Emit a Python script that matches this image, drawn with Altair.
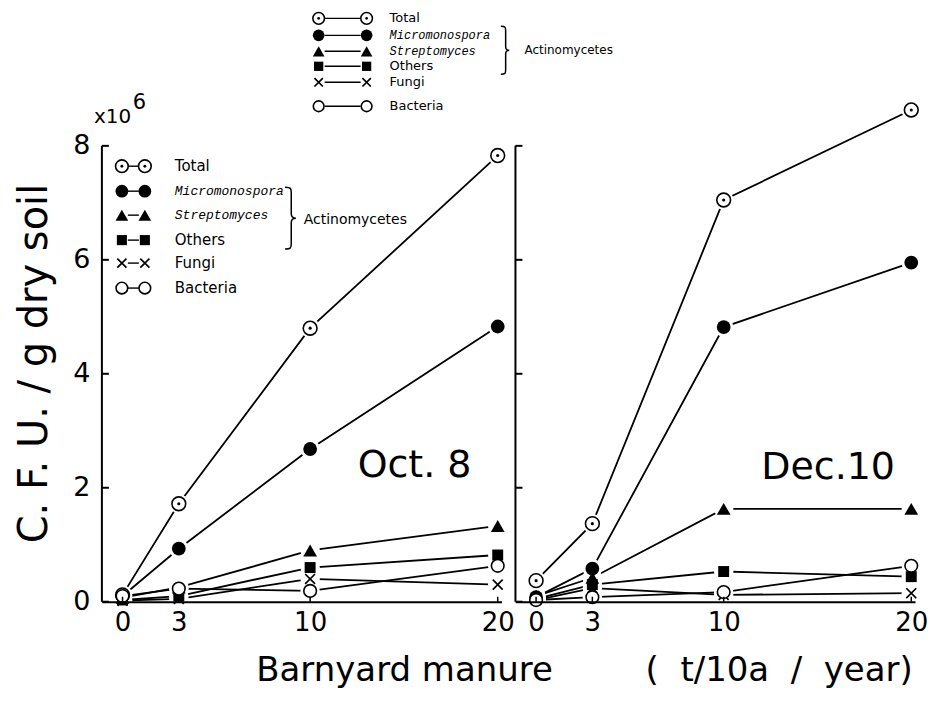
import altair as alt
import pandas as pd

# ---------------- data (units: x10^6 CFU / g dry soil) -------------
doses = [0, 3, 10, 20]
series_names = ["Total", "Micromonospora", "Streptomyces", "Others", "Fungi", "Bacteria"]

oct_total = [0.12, 1.72, 4.80, 7.83]
oct_micro = [0.10, 0.93, 2.68, 4.83]
oct_strep = [0.07, 0.25, 0.90, 1.33]
oct_others = [0.03, 0.10, 0.60, 0.82]
oct_fungi = [0.02, 0.05, 0.40, 0.30]
oct_bact = [0.10, 0.23, 0.19, 0.63]

dec_total = [0.37, 1.37, 7.05, 8.63]
dec_micro = [0.08, 0.58, 4.82, 5.95]
dec_strep = [0.10, 0.42, 1.63, 1.63]
dec_others = [0.05, 0.30, 0.53, 0.44]
dec_fungi = [0.03, 0.24, 0.12, 0.15]
dec_bact = [0.03, 0.08, 0.17, 0.63]

y_ticks = [0, 2, 4, 6, 8]
panel_labels = ["Oct. 8", "Dec.10"]
y_title = "C. F. U. / g dry soil"
x_title_parts = ["Barnyard manure", "(\u00a0\u00a0t/10a\u00a0\u00a0/\u00a0\u00a0year)"]
group_label = "Actinomycetes"


def long_df(cols):
    rows = []
    for name, vals in zip(series_names, cols):
        for d, v in zip(doses, vals):
            rows.append({"dose": d, "value": v, "series": name})
    return pd.DataFrame(rows)


oct_df = long_df([oct_total, oct_micro, oct_strep, oct_others, oct_fungi, oct_bact])
dec_df = long_df([dec_total, dec_micro, dec_strep, dec_others, dec_fungi, dec_bact])

# ---------------- styling ----------------
W, H = 400, 502
XS = alt.Scale(domain=[-1.1, 20.2], nice=False, zero=False)
YS = alt.Scale(domain=[0, 8.8], nice=False, zero=True)
SANS = "DejaVu Sans"
MONO = "Liberation Mono"

XPATH = "M -0.7 -0.7 L 0.7 0.7 M -0.7 0.7 L 0.7 -0.7"
BRACE = ("M -0.15 -1 C 0.05 -1 0.05 -0.95 0.05 -0.8 L 0.05 -0.15 "
         "C 0.05 -0.05 0.1 0 0.2 0 C 0.1 0 0.05 0.05 0.05 0.15 "
         "L 0.05 0.8 C 0.05 0.95 0.05 1 -0.15 1")

STYLE = {
    "Total": [dict(shape="circle", filled=False, fill="white", stroke="black", strokeWidth=1.6, size=190),
              dict(shape="circle", filled=True, color="black", size=10)],
    "Micromonospora": [dict(shape="circle", filled=True, color="black", size=190)],
    "Streptomyces": [dict(shape="triangle-up", filled=True, color="black", size=190)],
    "Others": [dict(shape="square", filled=True, color="black", size=120)],
    "Fungi": [dict(shape=XPATH, filled=False, stroke="black", strokeWidth=1.7, size=200)],
    "Bacteria": [dict(shape="circle", filled=False, fill="white", stroke="black", strokeWidth=1.6, size=160)],
}

one = pd.DataFrame({"k": [0]})


def legend_layers(rows_y, xl, xr, xt, scale, brace_x, brace_cy, brace_h, act_x, act_y, fs, fs_it):
    layers = []
    for name, ry in zip(series_names, rows_y):
        layers.append(alt.Chart(one).mark_rule(color="black", strokeWidth=1.4).encode(
            x=alt.value(xl + 6), x2=alt.value(xr - 6), y=alt.value(ry)))
        for px in (xl, xr):
            for st in STYLE[name]:
                s = dict(st)
                s["size"] = st["size"] * scale
                layers.append(alt.Chart(one).mark_point(opacity=1, **s).encode(
                    x=alt.value(px), y=alt.value(ry)))
        italic = name in ("Micromonospora", "Streptomyces")
        layers.append(alt.Chart(one).mark_text(
            text=name, align="left", baseline="middle",
            font=MONO if italic else SANS,
            fontStyle="italic" if italic else "normal",
            fontSize=fs_it if italic else fs, color="black").encode(
            x=alt.value(xt), y=alt.value(ry)))
    layers.append(alt.Chart(one).mark_point(
        shape=BRACE, filled=False, stroke="black", strokeWidth=1.5, opacity=1,
        size=brace_h * brace_h).encode(x=alt.value(brace_x), y=alt.value(brace_cy)))
    layers.append(alt.Chart(one).mark_text(
        text=group_label, align="left", baseline="middle", font=SANS,
        fontSize=fs - 1, color="black").encode(x=alt.value(act_x), y=alt.value(act_y)))
    return layers


def panel(df, label, label_x, label_y, left):
    x_axis = alt.Axis(values=doses, domain=True, domainColor="black", domainWidth=2,
                      ticks=False, labelFontSize=26, labelFont=SANS, labelColor="black",
                      labelPadding=8, labelFlush=False, labelOverlap=False,
                      grid=False, title=None, zindex=1)
    if left:
        y_axis = alt.Axis(values=y_ticks, domain=False, ticks=False, labelFontSize=27,
                          labelFont=SANS, labelColor="black", labelPadding=12,
                          grid=False, title=y_title, titleFont=SANS, titleFontSize=40,
                          titleFontWeight="normal", titleColor="black", titleAngle=270,
                          titleX=-67, titleY=263, titleAlign="center",
                          titleBaseline="middle")
    else:
        y_axis = None
    xe = alt.X("dose:Q", scale=XS, axis=x_axis)
    ye = alt.Y("value:Q", scale=YS, axis=y_axis)
    base = alt.Chart(df)

    layers = [
        base.mark_line(color="black", strokeWidth=1.8).encode(x=xe, y=ye, detail="series:N"),
        base.mark_point(shape="circle", filled=True, color="white", size=380, opacity=1).encode(x=xe, y=ye),
    ]
    for name in series_names:
        sub = base.transform_filter(alt.datum.series == name)
        for st in STYLE[name]:
            layers.append(sub.mark_point(opacity=1, **st).encode(x=xe, y=ye))

    # axis line and inward ticks (same fields/axes as the data so the axes merge)
    layers.append(alt.Chart(pd.DataFrame({"value": [0], "value2": [8]})).mark_rule(
        color="black", strokeWidth=2).encode(
        x=alt.value(0), y=ye, y2="value2:Q"))
    layers.append(alt.Chart(pd.DataFrame({"value": y_ticks})).mark_rule(color="black", strokeWidth=2).encode(
        x=alt.value(0), x2=alt.value(7), y=ye))
    layers.append(alt.Chart(pd.DataFrame({"dose": doses})).mark_rule(color="black", strokeWidth=1.5).encode(
        x=xe, y=alt.value(H), y2=alt.value(H - 5)))

    layers.append(alt.Chart(one).mark_text(
        text=label, fontSize=38, font=SANS, color="black", align="center", baseline="middle").encode(
        x=alt.value(label_x), y=alt.value(label_y)))
    return layers


left_layers = panel(oct_df, panel_labels[0], 313, 366, True)
left_layers += [
    alt.Chart(one).mark_text(text="x10", fontSize=20, font=SANS, color="black",
                             align="left", baseline="alphabetic").encode(
        x=alt.value(-8), y=alt.value(23)),
    alt.Chart(one).mark_text(text="6", fontSize=21, font=SANS, color="black",
                             align="left", baseline="alphabetic").encode(
        x=alt.value(31), y=alt.value(9)),
    alt.Chart(one).mark_text(text=x_title_parts[0], fontSize=34, font=SANS, color="black",
                             align="center", baseline="middle").encode(
        x=alt.value(303), y=alt.value(571)),
]
# inner legend (inside Oct. 8 panel)
left_layers += legend_layers([66, 91, 115, 140, 163, 188], 20, 43, 73, 0.85,
                             188, 118, 62, 202, 120, 15, 13)
# top legend (above the panels)
left_layers += legend_layers([-82, -65, -49, -34, -18, 6], 217, 265, 288, 0.72,
                             403, -50, 48, 423, -50, 13, 12)

right_layers = panel(dec_df, panel_labels[1], 313, 368, False)
right_layers += [
    alt.Chart(one).mark_text(text=x_title_parts[1], fontSize=34, font=SANS, color="black",
                             align="center", baseline="middle").encode(
        x=alt.value(264), y=alt.value(571)),
]

left = alt.layer(*left_layers).properties(width=W, height=H)
right = alt.layer(*right_layers).properties(width=W, height=H)

chart = alt.hconcat(left, right, spacing=14, bounds="flush").properties(
    padding={"left": 6, "top": 0, "right": 0, "bottom": 0},
    background="white",
).configure_view(stroke=None)

chart.save("out.html", embed_options={"renderer": "svg", "actions": False})
